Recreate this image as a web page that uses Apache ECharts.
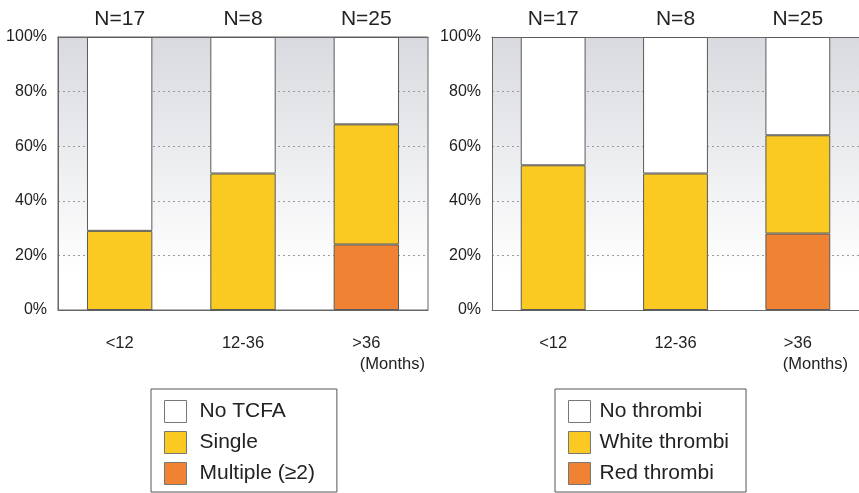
<!DOCTYPE html>
<html>
<head>
<meta charset="utf-8">
<script src="https://cdn.jsdelivr.net/npm/echarts@6/dist/echarts.min.js"></script>
<style>
html,body{margin:0;padding:0;background:#fff;}
#c{width:859px;height:493px;}
</style>
</head>
<body>
<div id="c"></div>
<script>
// ---- data ----
var categories = ['<12', '12-36', '>36'];
var nLabels = ['N=17', 'N=8', 'N=25'];
var unitLabel = '(Months)';
var yTicks = [0, 20, 40, 60, 80, 100];

// left panel (TCFA), percent
var tcfaNames = ['No TCFA', 'Single', 'Multiple (≥2)'];
var tcfaMultiple = [0, 0, 24];
var tcfaSingle = [29, 50, 44];
var tcfaNone = [71, 50, 32];

// right panel (thrombi), percent
var thrNames = ['No thrombi', 'White thrombi', 'Red thrombi'];
var thrRed = [0, 0, 28];
var thrWhite = [53, 50, 36];
var thrNone = [47, 50, 36];

// ---- styles ----
var FONT = 'Liberation Sans, Arial, sans-serif';
var TXT = '#222';
var cWhite = '#ffffff', cYellow = '#FACA23', cOrange = '#EF8333';
var barBorder = '#5a5a5a';

var chart = echarts.init(document.getElementById('c'), null, {renderer: 'canvas'});

function bg() {
  return new echarts.graphic.LinearGradient(0, 0, 0, 1, [
    {offset: 0, color: '#d8dadf'},
    {offset: 0.86, color: '#ffffff'},
    {offset: 1, color: '#ffffff'}
  ]);
}

function grid(left, width, border) {
  return {left: left, top: 37, width: width, height: 273, show: true,
    backgroundColor: bg(), borderColor: '#666', borderWidth: border, containLabel: false};
}

function bottomAxis(gi, monthsPad) {
  return {
    type: 'category', gridIndex: gi, data: categories, position: 'bottom',
    axisLine: {lineStyle: {color: '#666', width: 1}},
    axisTick: {show: false},
    axisLabel: {
      margin: 23, color: TXT, fontFamily: FONT,
      formatter: function (v, i) {
        if (i === categories.length - 1) return '{a|' + v + '}\n{m|' + unitLabel + '}';
        return '{a|' + v + '}';
      },
      rich: {
        a: {fontSize: 16.5, lineHeight: 21, color: TXT, fontFamily: FONT},
        m: {fontSize: 16.5, lineHeight: 21, color: TXT, fontFamily: FONT, padding: [0, 0, 0, monthsPad]}
      }
    }
  };
}

function topAxis(gi) {
  return {
    type: 'category', gridIndex: gi, data: nLabels, position: 'top',
    axisLine: {show: true, lineStyle: {color: '#666', width: 1}}, axisTick: {show: false},
    axisLabel: {margin: 7, fontSize: 21, color: TXT, fontFamily: FONT}
  };
}

function yAxis(gi) {
  return {
    type: 'value', gridIndex: gi, min: 0, max: 100, interval: 20,
    axisLine: {show: true, lineStyle: {color: '#666'}},
    axisTick: {show: false},
    splitLine: {show: true, lineStyle: {color: '#9a9a9a', type: [2, 3], width: 1}},
    axisLabel: {margin: 11, fontSize: 16, color: TXT, fontFamily: FONT, formatter: '{value}%'}
  };
}

function bar(name, data, color, xi, yi, stack) {
  return {
    name: name, type: 'bar', stack: stack, xAxisIndex: xi, yAxisIndex: yi,
    data: data, barWidth: '53%',
    itemStyle: {color: color, borderColor: barBorder, borderWidth: 1},
    emphasis: {disabled: true}, animation: false
  };
}

function legend(names, left, padRight, textGap) {
  return {
    show: true, orient: 'vertical', left: left, top: 389,
    data: names, itemWidth: 22, itemHeight: 22, itemGap: 8,
    padding: [11, padRight, 7, 13], borderColor: '#555', borderWidth: 1,
    selectedMode: false, icon: 'rect',
    itemStyle: {borderColor: '#777', borderWidth: 1},
    textStyle: {fontSize: 21, color: TXT, fontFamily: FONT, padding: [0, 0, 0, textGap]}
  };
}

chart.setOption({
  animation: false,
  backgroundColor: '#ffffff',
  grid: [grid(58, 370, 1), grid(492, 370, 0)],
  xAxis: [bottomAxis(0, 52), bottomAxis(1, 35), topAxis(0), topAxis(1)],
  yAxis: [yAxis(0), yAxis(1)],
  legend: [legend(tcfaNames, 151, 22, 8), legend(thrNames, 555, 17, 4)],
  series: [
    bar(tcfaNames[2], tcfaMultiple, cOrange, 0, 0, 'L'),
    bar(tcfaNames[1], tcfaSingle, cYellow, 0, 0, 'L'),
    bar(tcfaNames[0], tcfaNone, cWhite, 0, 0, 'L'),
    bar(thrNames[2], thrRed, cOrange, 1, 1, 'R'),
    bar(thrNames[1], thrWhite, cYellow, 1, 1, 'R'),
    bar(thrNames[0], thrNone, cWhite, 1, 1, 'R')
  ]
});
</script>
</body>
</html>
